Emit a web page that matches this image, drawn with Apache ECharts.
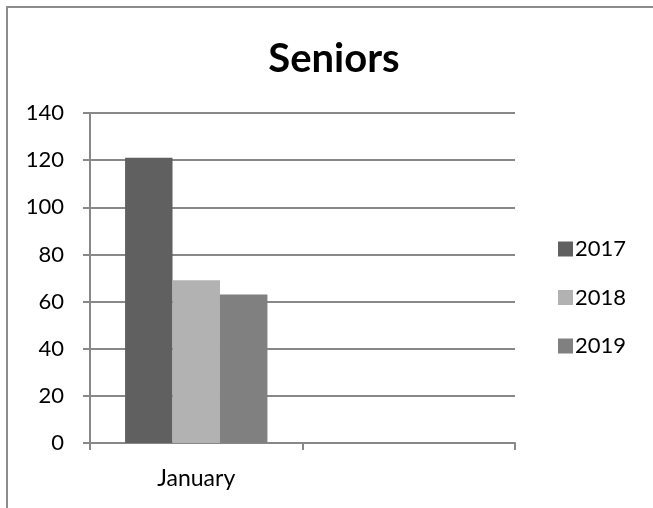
<!DOCTYPE html>
<html>
<head>
<meta charset="utf-8">
<script src="https://cdn.jsdelivr.net/npm/echarts@6/dist/echarts.min.js"></script>
<style>
html,body{margin:0;padding:0;background:#fff;}
#frame{position:absolute;left:6px;top:6px;width:647px;height:502px;border-left:2px solid #8c8c8c;border-top:2px solid #8c8c8c;box-sizing:border-box;}
#chart{position:absolute;left:0;top:0;width:653px;height:508px;}
</style>
</head>
<body>
<div id="frame"></div>
<div id="chart"></div>
<script>
const categories = ['January', ''];
const seriesNames = ['2017', '2018', '2019'];
const values2017 = [121, null];
const values2018 = [69, null];
const values2019 = [63, null];
const yTicks = [0, 20, 40, 60, 80, 100, 120, 140];

const colors = ['#606060', '#b2b2b2', '#808080'];
const FONT = 'Lato, "Open Sans", sans-serif';
const chart = echarts.init(document.getElementById('chart'), null, {renderer: 'canvas'});
const data = [values2017, values2018, values2019];
chart.setOption({
  animation: false,
  backgroundColor: 'transparent',
  title: {
    text: 'Seniors',
    left: 334, top: 39, textAlign: 'center', padding: 0,
    textStyle: {fontFamily: FONT, fontWeight: 'bold', fontSize: 40, color: '#000'}
  },
  legend: {
    orient: 'vertical',
    left: 558, top: 238, padding: 0,
    itemWidth: 15, itemHeight: 15, itemGap: 26.5,
    icon: 'rect',
    textStyle: {fontFamily: FONT, fontSize: 22, lineHeight: 22, color: '#000', padding: [0, 0, 0, -3]},
    data: seriesNames
  },
  grid: {left: 90, right: 138, top: 113, bottom: 65, containLabel: false},
  xAxis: {
    type: 'category',
    data: categories,
    axisLine: {lineStyle: {color: '#888', width: 2}},
    axisTick: {show: true, alignWithLabel: false, length: 7, lineStyle: {color: '#888', width: 2}},
    axisLabel: {fontFamily: FONT, fontSize: 23, color: '#000', margin: 24},
    splitLine: {show: false}
  },
  yAxis: {
    type: 'value',
    min: yTicks[0], max: yTicks[yTicks.length - 1], interval: 20,
    axisLine: {show: true, lineStyle: {color: '#888', width: 2}},
    axisTick: {show: true, length: 7, lineStyle: {color: '#888', width: 2}},
    axisLabel: {fontFamily: FONT, fontSize: 22, color: '#000', margin: 26},
    splitLine: {lineStyle: {color: '#888', width: 2}}
  },
  series: seriesNames.map((n, i) => ({
    name: n,
    type: 'bar',
    data: data[i],
    itemStyle: {color: colors[i]},
    barGap: '0%',
    barCategoryGap: '33%'
  }))
});
</script>
</body>
</html>
